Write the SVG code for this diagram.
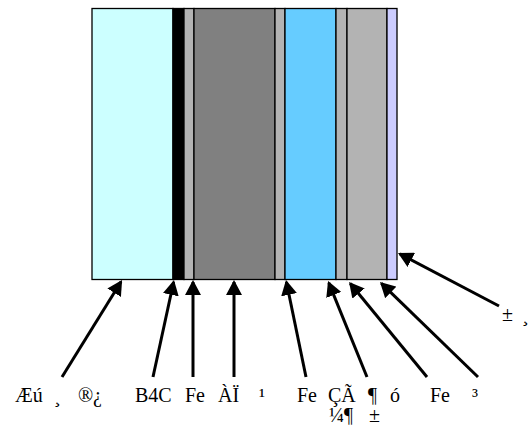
<svg xmlns="http://www.w3.org/2000/svg" width="528" height="427" viewBox="0 0 528 427">
  <defs>
    <style>
      .layer { stroke: #000; stroke-width: 1.3; }
      .lead { stroke: #000; stroke-width: 3; fill: none; marker-end: url(#head); }
      .lbl { font-family: "Liberation Serif", "Times New Roman", serif; font-size: 20px; fill: #000; }
    </style>
    <marker id="head" viewBox="0 0 15 16" refX="13" refY="8" markerWidth="15" markerHeight="16" markerUnits="userSpaceOnUse" orient="auto">
      <path d="M0,0 L15,8 L0,16 z" fill="#000"/>
    </marker>
  </defs>

  <!-- layered cross-section, left to right -->
  <g id="layers">
    <rect id="layer-1" class="layer" x="92" y="8.5" width="81" height="271" fill="#CCFFFF"/>
    <rect id="layer-2" class="layer" x="173" y="8.5" width="11" height="271" fill="#000000"/>
    <rect id="layer-3" class="layer" x="184" y="8.5" width="10" height="271" fill="#B3B3B3"/>
    <rect id="layer-4" class="layer" x="194" y="8.5" width="81" height="271" fill="#808080"/>
    <rect id="layer-5" class="layer" x="275" y="8.5" width="10" height="271" fill="#B3B3B3"/>
    <rect id="layer-6" class="layer" x="285" y="8.5" width="51" height="271" fill="#66CCFF"/>
    <rect id="layer-7" class="layer" x="336" y="8.5" width="11" height="271" fill="#B3B3B3"/>
    <rect id="layer-8" class="layer" x="347" y="8.5" width="40" height="271" fill="#B3B3B3"/>
    <rect id="layer-9" class="layer" x="387" y="8.5" width="10" height="271" fill="#CCCCFF"/>
  </g>

  <!-- leader arrows from labels to layers -->
  <g id="connectors">
    <line class="lead" x1="62" y1="377" x2="121" y2="281.7"/>
    <line class="lead" x1="153" y1="377" x2="173.6" y2="282"/>
    <line class="lead" x1="193" y1="377" x2="193" y2="282"/>
    <line class="lead" x1="234" y1="377" x2="234" y2="282"/>
    <line class="lead" x1="306" y1="377" x2="286.4" y2="282"/>
    <line class="lead" x1="367" y1="377" x2="328.8" y2="282.9"/>
    <line class="lead" x1="427" y1="377" x2="350.3" y2="283.5"/>
    <line class="lead" x1="478" y1="377" x2="381.4" y2="283.4"/>
    <line class="lead" x1="499" y1="306" x2="399.8" y2="253.9"/>
  </g>

  <g id="label-1"><text class="lbl" y="402"><tspan x="15">Æú</tspan><tspan x="54">¸</tspan><tspan x="78">®</tspan><tspan x="93">¿</tspan></text></g>
  <g id="label-2"><text class="lbl" x="135" y="402">B4C</text></g>
  <g id="label-3"><text class="lbl" x="185" y="402">Fe</text></g>
  <g id="label-4"><text class="lbl" y="402"><tspan x="218">ÀÏ</tspan><tspan x="259">¹</tspan></text></g>
  <g id="label-5"><text class="lbl" x="297" y="402">Fe</text></g>
  <g id="label-6">
    <text class="lbl" y="402"><tspan x="328">ÇÃ</tspan><tspan x="368">¶</tspan><tspan x="390">ó</tspan></text>
    <text class="lbl" y="422"><tspan x="329">¼¶</tspan><tspan x="369">±</tspan></text>
  </g>
  <g id="label-7"><text class="lbl" x="430" y="402">Fe</text></g>
  <g id="label-8"><text class="lbl" x="472" y="402">³</text></g>
  <g id="label-9"><text class="lbl" y="321"><tspan x="502">±</tspan><tspan x="522">¸</tspan></text></g>
</svg>
